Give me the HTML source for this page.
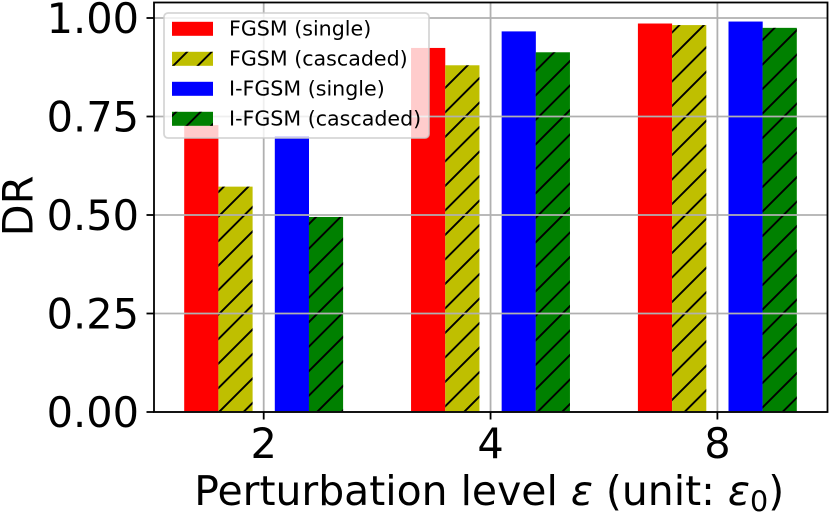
<!DOCTYPE html>
<html>
<head>
<meta charset="utf-8">
<style>
html,body{margin:0;padding:0;background:#fff;width:830px;height:514px;overflow:hidden}
svg{display:block}
text{font-family:"DejaVu Sans","Liberation Sans",sans-serif;fill:#000}
</style>
</head>
<body>
<svg id="chart" width="830" height="514" viewBox="0 0 830 514" xmlns="http://www.w3.org/2000/svg">
<defs>
<pattern id="hatch" patternUnits="userSpaceOnUse" width="24.5" height="24.5">
<path d="M-6 24.5L24.5 -6M0 43L43 0" stroke="#000" stroke-width="1.9" fill="none"/>
</pattern>
</defs>
<g id="bars"></g>
<g id="grid"></g>
<g id="axes"></g>
<text transform="translate(32.3 206) rotate(-90)" text-anchor="middle" font-size="41.5">DR</text>
<text x="194.3" y="505" font-size="40.9">Perturbation level <tspan font-style="italic">ε</tspan> (unit: <tspan font-style="italic">ε</tspan><tspan font-size="28.6" dy="6.5">0</tspan><tspan dy="-6.5">)</tspan></text>
<g id="legend"></g>
</svg>
<script>
var categories = ["2", "4", "8"];
var yTicks = ["0.00", "0.25", "0.50", "0.75", "1.00"];
var fgsmSingle = [0.728, 0.924, 0.986];
var fgsmCascaded = [0.572, 0.880, 0.982];
var ifgsmSingle = [0.700, 0.966, 0.991];
var ifgsmCascaded = [0.495, 0.913, 0.975];
var seriesNames = ["FGSM (single)", "FGSM (cascaded)", "I-FGSM (single)", "I-FGSM (cascaded)"];

var NS = "http://www.w3.org/2000/svg";
var plot = {left: 154, right: 827.5, top: 2.5, bottom: 412};
var seriesValues = [fgsmSingle, fgsmCascaded, ifgsmSingle, ifgsmCascaded];
var seriesColors = ["#ff0000", "#bfbf00", "#0000ff", "#008000"];
var seriesHatched = [false, true, false, true];
var seriesOffsets = [-62.4, -28.2, 28.2, 62.3];
var barWidth = 34.2;

function xScale(i) { return 263.7 + i * 226.85; }
function yScale(v) { return 412 - v * 394; }

function make(tag, attrs, parent) {
  var el = document.createElementNS(NS, tag);
  for (var k in attrs) el.setAttribute(k, attrs[k]);
  parent.appendChild(el);
  return el;
}

var barsG = document.getElementById("bars");
var gridG = document.getElementById("grid");
var axesG = document.getElementById("axes");
var legendG = document.getElementById("legend");

seriesValues.forEach(function (vals, s) {
  vals.forEach(function (v, i) {
    var x = xScale(i) + seriesOffsets[s] - barWidth / 2;
    var y = yScale(v);
    var h = yScale(0) - y;
    var bar = make("rect", {x: x, y: y, width: barWidth, height: h, fill: seriesColors[s]}, barsG);
    
    
    if (seriesHatched[s]) {
      var hatch = make("rect", {x: x, y: y, width: barWidth, height: h, fill: "url(#hatch)"}, barsG);
      
      
    }
  });
});

categories.forEach(function (c, i) {
  var x = xScale(i);
  var gl = make("line", {x1: x, x2: x, y1: plot.top, y2: plot.bottom, stroke: "#b0b0b0", "stroke-width": 1.8}, gridG);
  
  
  var tk = make("line", {x1: x, x2: x, y1: plot.bottom, y2: plot.bottom + 7.5, stroke: "#000", "stroke-width": 1.8}, axesG);
  
  
  var t = make("text", {x: x, y: 458, "text-anchor": "middle", "font-size": 41.5}, axesG);
  
  
  t.textContent = c;
});

yTicks.forEach(function (label) {
  var y = yScale(parseFloat(label));
  var gl = make("line", {x1: plot.left, x2: plot.right, y1: y, y2: y, stroke: "#b0b0b0", "stroke-width": 1.8}, gridG);
  
  
  var tk = make("line", {x1: plot.left - 7.5, x2: plot.left, y1: y, y2: y, stroke: "#000", "stroke-width": 1.8}, axesG);
  
  
  var t = make("text", {x: 139, y: y + 15, "text-anchor": "end", "font-size": 41.5}, axesG);
  
  
  t.textContent = label;
});

var frame = make("rect", {x: plot.left, y: plot.top, width: plot.right - plot.left, height: plot.bottom - plot.top, fill: "none", stroke: "#000", "stroke-width": 1.8}, axesG);



var box = make("rect", {x: 164, y: 13, width: 265, height: 125, rx: 4, ry: 4, fill: "#fff", "fill-opacity": 0.8, stroke: "#cccccc", "stroke-opacity": 0.8, "stroke-width": 1.8}, legendG);



seriesNames.forEach(function (name, s) {
  var y = 21.8 + s * 30;
  var sw = make("rect", {x: 172, y: y, width: 41, height: 14, fill: seriesColors[s]}, legendG);
  
  
  if (seriesHatched[s]) {
    var hs = make("rect", {x: 172, y: y, width: 41, height: 14, fill: "url(#hatch)"}, legendG);
    
    
  }
  var t = make("text", {x: 229, y: y + 13.5, "font-size": 20.6}, legendG);
  
  
  t.textContent = name;
});
</script>
</body>
</html>
